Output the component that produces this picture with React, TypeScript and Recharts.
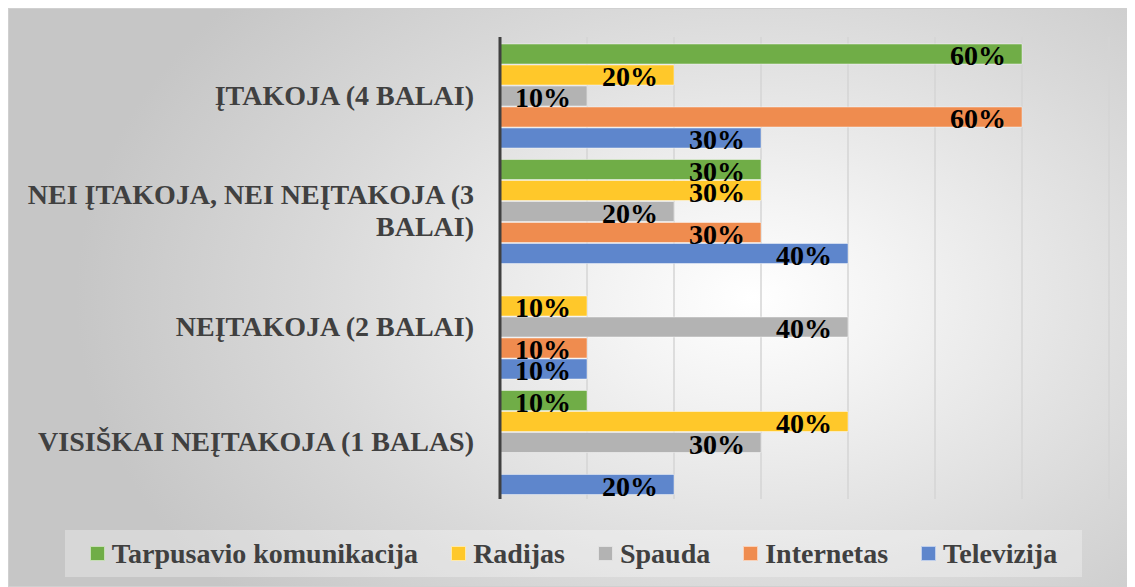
import { BarChart, Bar, XAxis, YAxis, CartesianGrid, LabelList } from 'recharts';

const categories = [
    'ĮTAKOJA (4 BALAI)',
    'NEI ĮTAKOJA, NEI NEĮTAKOJA (3 BALAI)',
    'NEĮTAKOJA (2 BALAI)',
    'VISIŠKAI NEĮTAKOJA (1 BALAS)',
];

const tarpusavio = [60, 30, 0, 10];
const radijas = [20, 30, 10, 40];
const spauda = [10, 20, 40, 30];
const internetas = [60, 30, 10, 0];
const televizija = [30, 40, 10, 20];

const xTicks = [0, 10, 20, 30, 40, 50, 60, 70];

const series = [
    { key: 'tarpusavio', name: 'Tarpusavio komunikacija', color: '#70ad47', values: tarpusavio },
    { key: 'radijas', name: 'Radijas', color: '#ffc82a', values: radijas },
    { key: 'spauda', name: 'Spauda', color: '#b3b3b3', values: spauda },
    { key: 'internetas', name: 'Internetas', color: '#ef8c4f', values: internetas },
    { key: 'televizija', name: 'Televizija', color: '#5e86cc', values: televizija },
];

const data = categories.map((name, i) => {
    const row: any = { name };
    series.forEach((s) => {
        row[s.key] = s.values[i];
    });
    return row;
});

const FONT = "Times New Roman, Liberation Serif, Tinos, DejaVu Serif, serif";

// simple greedy wrap, Excel breaks the long label after "(3"
const wrap = (text: string, maxChars: number) => {
    const words = text.split(' ');
    const lines: string[] = [];
    let cur = '';
    words.forEach((w) => {
        const next = cur ? cur + ' ' + w : w;
        if (next.length > maxChars && cur) {
            lines.push(cur);
            cur = w;
        } else {
            cur = next;
        }
    });
    if (cur) lines.push(cur);
    return lines;
};

const CategoryTick = (props: any) => {
    const { x, y, payload } = props;
    const lines = wrap(payload.value, 29);
    const lineH = 32;
    const startY = y - ((lines.length - 1) * lineH) / 2 + 10;
    return (
        <text
            x={x - 24}
            y={startY}
            textAnchor="end"
            fill="#404040"
            style={{ fontFamily: FONT, fontWeight: 'bold', fontSize: 28 }}
        >
            {lines.map((l, i) => (
                <tspan key={i} x={x - 24} y={startY + i * lineH}>
                    {l}
                </tspan>
            ))}
        </text>
    );
};

const ValueLabel = (props: any) => {
    const { x, y, width, height, value } = props;
    if (!value) return null;
    return (
        <text
            x={x + width - 16}
            y={y + height / 2 + 11}
            textAnchor="end"
            fill="#000000"
            style={{ fontFamily: FONT, fontWeight: 'bold', fontSize: 28 }}
        >
            {value}%
        </text>
    );
};

const App = () => {
    return (
        <div
            style={{
                position: 'relative',
                width: 1127,
                height: 579,
                background:
                    'radial-gradient(ellipse 60% 80% at 66% 50%, #ffffff 0%, #f4f4f4 20%, #d9d9d9 65%, #c6c6c6 100%)',
                boxShadow: 'inset 0 0 0 1px #d0d0d0',
            }}
        >
            <BarChart
                width={1127}
                height={579}
                data={data}
                layout="vertical"
                barCategoryGap={7}
                barGap={1}
                margin={{ top: 29, right: 26, bottom: 88, left: 0 }}
            >
                <CartesianGrid horizontal={false} stroke="#d4d4d4" strokeWidth={1.5} />
                <XAxis type="number" domain={[0, 70]} ticks={xTicks} hide />
                <YAxis
                    type="category"
                    dataKey="name"
                    width={492}
                    axisLine={{ stroke: '#404040', strokeWidth: 3 }}
                    tickLine={false}
                    tickSize={0}
                    tick={<CategoryTick />}
                    interval={0}
                />
                {series.map((s) => (
                    <Bar
                        key={s.key}
                        dataKey={s.key}
                        name={s.name}
                        fill={s.color}
                        stroke="rgba(255,255,255,0.45)"
                        strokeWidth={1}
                        isAnimationActive={false}
                    >
                        <LabelList dataKey={s.key} content={<ValueLabel />} />
                    </Bar>
                ))}
            </BarChart>
            <div
                style={{
                    position: 'absolute',
                    left: 57,
                    top: 522,
                    width: 1017,
                    height: 47,
                    background: 'rgba(255,255,255,0.3)',
                    display: 'flex',
                    alignItems: 'center',
                    justifyContent: 'center',
                    gap: 33,
                    fontFamily: FONT,
                    fontWeight: 'bold',
                    fontSize: 28,
                    color: '#404040',
                }}
            >
                {series.map((s) => (
                    <div key={s.key} style={{ display: 'flex', alignItems: 'center' }}>
                        <span
                            style={{
                                display: 'inline-block',
                                width: 13,
                                height: 13,
                                background: s.color,
                                border: '1px solid rgba(255,255,255,0.6)',
                                marginRight: 7,
                            }}
                        />
                        <span>{s.name}</span>
                    </div>
                ))}
            </div>
        </div>
    );
};

export default App;
